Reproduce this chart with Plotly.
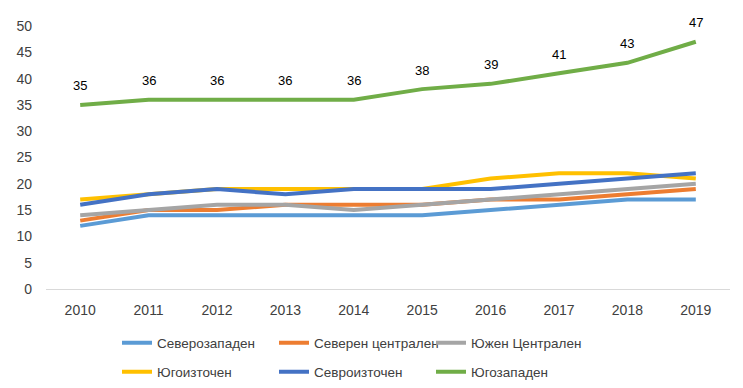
import plotly.graph_objects as go

years = ["2010", "2011", "2012", "2013", "2014", "2015", "2016", "2017", "2018", "2019"]

severozapaden = [12, 14, 14, 14, 14, 14, 15, 16, 17, 17]
severen_centralen = [13, 15, 15, 16, 16, 16, 17, 17, 18, 19]
yuzhen_centralen = [14, 15, 16, 16, 15, 16, 17, 18, 19, 20]
yugoiztochen = [17, 18, 19, 19, 19, 19, 21, 22, 22, 21]
sevroiztochen = [16, 18, 19, 18, 19, 19, 19, 20, 21, 22]
yugozapaden = [35, 36, 36, 36, 36, 38, 39, 41, 43, 47]

series = [
    ("Северозападен", severozapaden, "#5B9BD5", "legend"),
    ("Северен централен", severen_centralen, "#ED7D31", "legend"),
    ("Южен Централен", yuzhen_centralen, "#A5A5A5", "legend"),
    ("Югоизточен", yugoiztochen, "#FFC000", "legend2"),
    ("Севроизточен", sevroiztochen, "#4472C4", "legend2"),
    ("Югозападен", yugozapaden, "#70AD47", "legend2"),
]

FONT = "Liberation Sans"
TXT = "#404040"
W, H = 735, 380

fig = go.Figure()
for name, vals, color, lg in series:
    fig.add_trace(go.Scatter(
        x=years, y=vals, name=name, mode="lines",
        line=dict(color=color, width=4),
        legend=lg, cliponaxis=False,
    ))

for i, v in enumerate(yugozapaden):
    fig.add_annotation(x=i, y=v, text=str(v), showarrow=False, yshift=19,
                       font=dict(family=FONT, size=13, color="#000000"))

legend_common = dict(
    orientation="h", xref="container", yref="container",
    xanchor="left", yanchor="middle", entrywidth=112, entrywidthmode="pixels",
    font=dict(family=FONT, size=13.5, color=TXT), itemwidth=30,
    bgcolor="rgba(0,0,0,0)", traceorder="normal",
)

fig.update_layout(
    width=W, height=H,
    margin=dict(l=38, r=13, t=18, b=99),
    paper_bgcolor="white", plot_bgcolor="white",
    font=dict(family=FONT, size=14, color=TXT),
    xaxis=dict(type="category", range=[-0.5, 9.5], showgrid=False,
               showline=True, linecolor="#D9D9D9", linewidth=1,
               ticks="", tickfont=dict(size=14, color=TXT), zeroline=False,
               automargin=False, ticklabelstandoff=8),
    yaxis=dict(range=[0, 50], dtick=5, showgrid=False, zeroline=False,
               showline=False, ticks="", tickfont=dict(size=14, color=TXT),
               ticklabelstandoff=13, automargin=False),
    legend=dict(x=109 / W, y=1 - 335 / H, **legend_common),
    legend2=dict(x=109 / W, y=1 - 364 / H, **legend_common),
    showlegend=True,
)

fig.write_html("out.html")
